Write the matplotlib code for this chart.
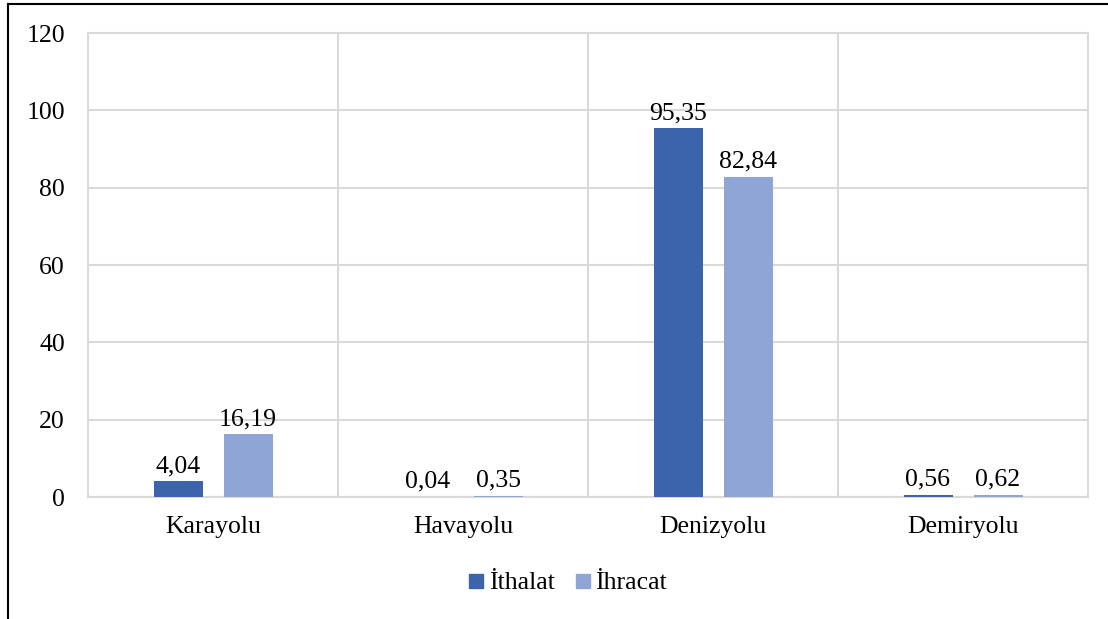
import matplotlib
matplotlib.use("Agg")
import matplotlib.pyplot as plt
from matplotlib.lines import Line2D
import numpy as np

categories = ["Karayolu", "Havayolu", "Denizyolu", "Demiryolu"]
ithalat = [4.04, 0.04, 95.35, 0.56]
ihracat = [16.19, 0.35, 82.84, 0.62]
series_names = ["İthalat", "İhracat"]
yticks = [0, 20, 40, 60, 80, 100, 120]

c_ith = "#3c64ad"
c_ihr = "#8fa5d5"
grid_c = "#d9d9d9"
FS = 18.5

plt.rcParams["font.family"] = ["Liberation Serif", "DejaVu Serif"]

fig = plt.figure(figsize=(11.08, 6.19), dpi=100)
ax = fig.add_axes([88 / 1108, 1 - 497 / 619, 1000 / 1108, 464 / 619])

x = np.arange(len(categories))
w = 0.196
off = 0.14
b1 = ax.bar(x - off, ithalat, w, color=c_ith, zorder=3)
b2 = ax.bar(x + off, ihracat, w, color=c_ihr, zorder=3)

def fmt(v):
    return f"{v:.2f}".replace(".", ",")

for bars, vals in ((b1, ithalat), (b2, ihracat)):
    for r, v in zip(bars, vals):
        ax.annotate(fmt(v), (r.get_x() + r.get_width() / 2, v),
                    xytext=(0, 3), textcoords="offset points",
                    ha="center", va="bottom", fontsize=FS, color="#000000")

ax.set_xlim(-0.5, len(categories) - 0.5)
ax.set_ylim(0, 120)
ax.set_yticks(yticks)
ax.set_yticklabels([str(t) for t in yticks], fontsize=FS)
ax.set_xticks(x)
ax.set_xticklabels(categories, fontsize=FS)
ax.tick_params(axis="both", length=0)
ax.tick_params(axis="y", pad=16.5)
ax.tick_params(axis="x", pad=14)

ax.yaxis.grid(True, color=grid_c, linewidth=1.5, zorder=0)
for xv in np.arange(0.5, len(categories) - 0.5, 1):
    ax.axvline(xv, color=grid_c, linewidth=1.5, zorder=0)
for s in ax.spines.values():
    s.set_color(grid_c)
    s.set_linewidth(1.5)

handles = [Line2D([], [], marker="s", linestyle="none", markersize=10,
                  markerfacecolor=c, markeredgecolor=c)
           for c in (c_ith, c_ihr)]
fig.legend(handles, series_names, loc="center", bbox_to_anchor=(567 / 1108, 1 - 583 / 619),
           ncol=2, frameon=False, fontsize=FS, handletextpad=0.15, columnspacing=0.74,
           handlelength=0.7)

# outer frame lines (top and left)
fig.add_artist(Line2D([8 / 1108, 1.0], [1 - 4 / 619, 1 - 4 / 619], color="black", linewidth=1.5))
fig.add_artist(Line2D([8 / 1108, 8 / 1108], [0, 1 - 4 / 619], color="black", linewidth=1.5))

fig.savefig("out.png", dpi=100, facecolor="white")
